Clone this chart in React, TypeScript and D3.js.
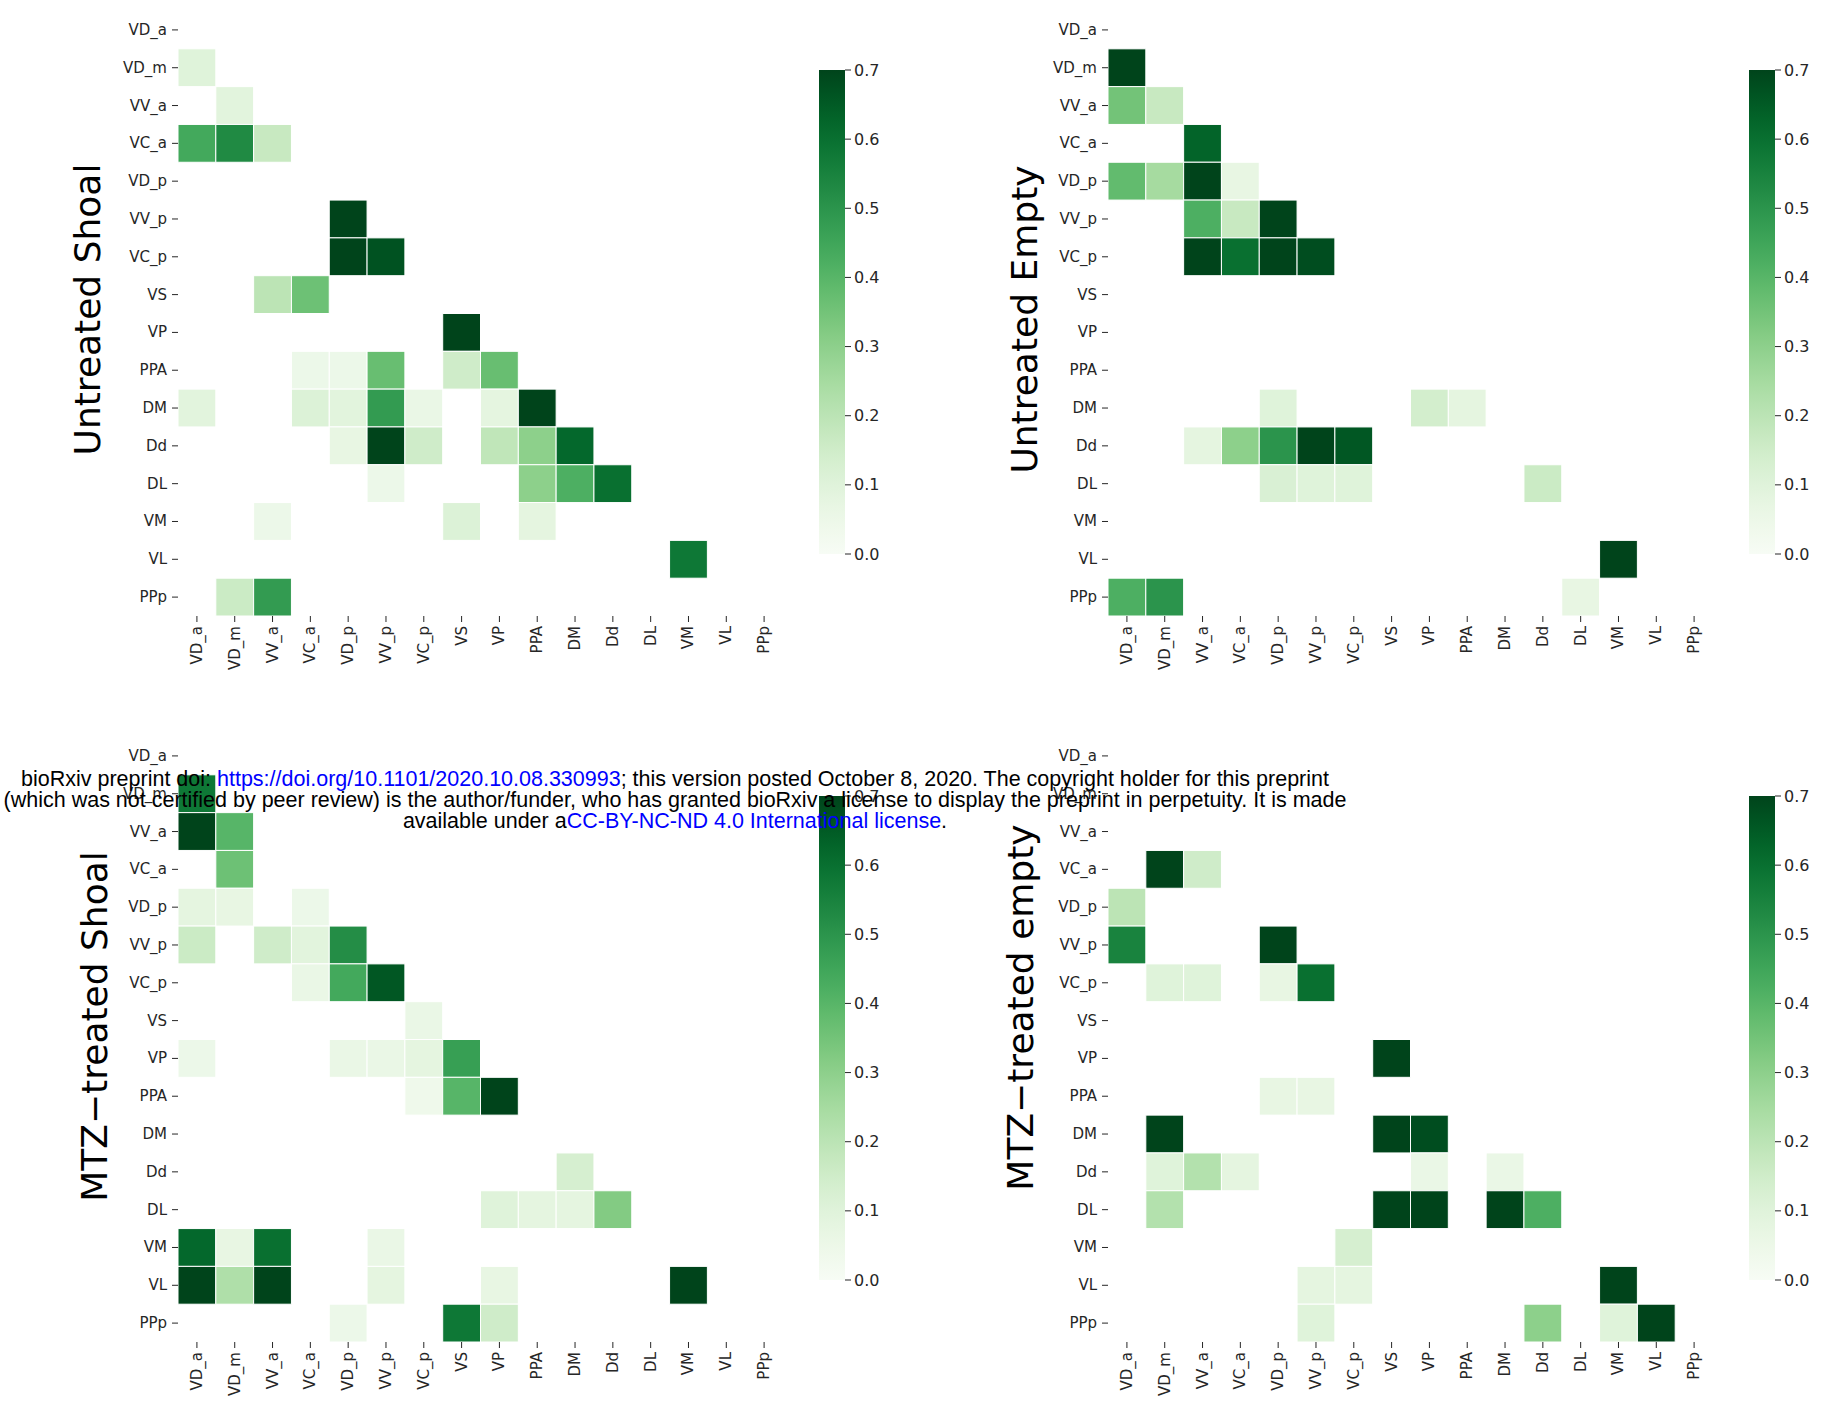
import React from "react";
import * as d3 from "d3";

const regions = ["VD_a","VD_m","VV_a","VC_a","VD_p","VV_p","VC_p","VS","VP","PPA","DM","Dd","DL","VM","VL","PPp"];
const colorTicks = [0, 0.1, 0.2, 0.3, 0.4, 0.5, 0.6, 0.7];
const vmax = 0.7;

type Cell = [string, string, number];

const untreatedShoal: Cell[] = [
  ["VD_m","VD_a",0.10],
  ["VV_a","VD_m",0.09],
  ["VC_a","VD_a",0.44],["VC_a","VD_m",0.53],["VC_a","VV_a",0.17],
  ["VV_p","VD_p",0.70],
  ["VC_p","VD_p",0.70],["VC_p","VV_p",0.67],
  ["VS","VV_a",0.20],["VS","VC_a",0.36],
  ["VP","VS",0.70],
  ["PPA","VC_a",0.05],["PPA","VD_p",0.05],["PPA","VV_p",0.37],["PPA","VS",0.15],["PPA","VP",0.37],
  ["DM","VD_a",0.09],["DM","VC_a",0.11],["DM","VD_p",0.09],["DM","VV_p",0.48],["DM","VC_p",0.06],["DM","VP",0.08],["DM","PPA",0.70],
  ["Dd","VD_p",0.07],["Dd","VV_p",0.70],["Dd","VC_p",0.15],["Dd","VP",0.19],["Dd","PPA",0.30],["Dd","DM",0.62],
  ["DL","VV_p",0.05],["DL","PPA",0.30],["DL","DM",0.42],["DL","Dd",0.60],
  ["VM","VV_a",0.05],["VM","VS",0.11],["VM","PPA",0.08],
  ["VL","VM",0.58],
  ["PPp","VD_m",0.16],["PPp","VV_a",0.48],
];

const untreatedEmpty: Cell[] = [
  ["VD_m","VD_a",0.70],
  ["VV_a","VD_a",0.35],["VV_a","VD_m",0.17],
  ["VC_a","VV_a",0.63],
  ["VD_p","VD_a",0.38],["VD_p","VD_m",0.25],["VD_p","VV_a",0.70],["VD_p","VC_a",0.07],
  ["VV_p","VV_a",0.42],["VV_p","VC_a",0.17],["VV_p","VD_p",0.70],
  ["VC_p","VV_a",0.70],["VC_p","VC_a",0.60],["VC_p","VD_p",0.70],["VC_p","VV_p",0.68],
  ["DM","VD_p",0.10],["DM","VP",0.14],["DM","PPA",0.08],
  ["Dd","VV_a",0.08],["Dd","VC_a",0.30],["Dd","VD_p",0.50],["Dd","VV_p",0.70],["Dd","VC_p",0.66],
  ["DL","VD_p",0.12],["DL","VV_p",0.10],["DL","VC_p",0.10],["DL","Dd",0.16],
  ["VL","VM",0.70],
  ["PPp","VD_a",0.42],["PPp","VD_m",0.50],["PPp","DL",0.07],
];

const mtzShoal: Cell[] = [
  ["VD_m","VD_a",0.58],
  ["VV_a","VD_a",0.70],["VV_a","VD_m",0.40],
  ["VC_a","VD_m",0.36],
  ["VD_p","VD_a",0.08],["VD_p","VD_m",0.07],["VD_p","VC_a",0.05],
  ["VV_p","VD_a",0.16],["VV_p","VV_a",0.15],["VV_p","VC_a",0.09],["VV_p","VD_p",0.52],
  ["VC_p","VC_a",0.06],["VC_p","VD_p",0.44],["VC_p","VV_p",0.66],
  ["VS","VC_p",0.06],
  ["VP","VD_a",0.05],["VP","VD_p",0.06],["VP","VV_p",0.06],["VP","VC_p",0.08],["VP","VS",0.47],
  ["PPA","VC_p",0.04],["PPA","VS",0.40],["PPA","VP",0.70],
  ["Dd","DM",0.13],
  ["DL","VP",0.10],["DL","PPA",0.08],["DL","DM",0.08],["DL","Dd",0.32],
  ["VM","VD_a",0.62],["VM","VD_m",0.07],["VM","VV_a",0.60],["VM","VV_p",0.06],
  ["VL","VD_a",0.70],["VL","VD_m",0.23],["VL","VV_a",0.70],["VL","VV_p",0.08],["VL","VP",0.07],["VL","VM",0.70],
  ["PPp","VD_p",0.05],["PPp","VS",0.58],["PPp","VP",0.15],
];

const mtzEmpty: Cell[] = [
  ["VC_a","VD_m",0.70],["VC_a","VV_a",0.15],
  ["VD_p","VD_a",0.20],
  ["VV_p","VD_a",0.55],["VV_p","VD_p",0.70],
  ["VC_p","VD_m",0.10],["VC_p","VV_a",0.10],["VC_p","VD_p",0.07],["VC_p","VV_p",0.60],
  ["VP","VS",0.70],
  ["PPA","VD_p",0.07],["PPA","VV_p",0.07],
  ["DM","VD_m",0.70],["DM","VS",0.70],["DM","VP",0.68],
  ["Dd","VD_m",0.10],["Dd","VV_a",0.22],["Dd","VC_a",0.08],["Dd","VP",0.06],["Dd","DM",0.06],
  ["DL","VD_m",0.22],["DL","VS",0.70],["DL","VP",0.70],["DL","DM",0.70],["DL","Dd",0.42],
  ["VM","VC_p",0.13],
  ["VL","VV_p",0.08],["VL","VC_p",0.08],["VL","VM",0.70],
  ["PPp","VV_p",0.10],["PPp","Dd",0.30],["PPp","VM",0.10],["PPp","VL",0.70],
];

const panelTitles = ["Untreated Shoal", "Untreated Empty", "MTZ\u2212treated Shoal", "MTZ\u2212treated empty"];
const panelData = [untreatedShoal, untreatedEmpty, mtzShoal, mtzEmpty];

// layout
const panelLeft = [178, 1108, 178, 1108];
const panelTop = [11, 11, 737, 737];
const titleX = [100, 1037, 107, 1033];
const titleDy = [-4, 6, -13, -32];
const SIZE = 605;

const color = (v: number) => d3.interpolateGreens(Math.min(1, v / vmax));
const labelFont = "'DejaVu Sans', sans-serif";
const textColor = "#262626";

function Panel({ idx }: { idx: number }) {
  const L = panelLeft[idx];
  const T = panelTop[idx];
  const x = d3.scaleBand<string>().domain(regions).range([L, L + SIZE]);
  const y = d3.scaleBand<string>().domain(regions).range([T, T + SIZE]);
  const bw = x.bandwidth();
  const cbX = L + 641;
  const cbW = 26;
  const cy = d3.scaleLinear().domain([0, vmax]).range([T + 543, T + 59]);
  const gradId = `grad${idx}`;
  const stops = d3.range(0, 1.0001, 0.05);
  const midY = T + SIZE / 2 + titleDy[idx];
  return (
    <g>
      <defs>
        <linearGradient id={gradId} x1="0" y1="1" x2="0" y2="0">
          {stops.map((s) => (
            <stop key={s} offset={`${s * 100}%`} stopColor={d3.interpolateGreens(s)} />
          ))}
        </linearGradient>
      </defs>
      {panelData[idx].map(([r, c, v]) => (
        <rect
          key={r + c}
          x={x(c)}
          y={y(r)}
          width={bw}
          height={bw}
          fill={color(v)}
          stroke="#ffffff"
          strokeWidth={1}
        />
      ))}
      {regions.map((r) => (
        <g key={"y" + r}>
          <line x1={L - 6} x2={L} y1={y(r)! + bw / 2} y2={y(r)! + bw / 2} stroke={textColor} strokeWidth={1} />
          <text
            x={L - 11}
            y={y(r)! + bw / 2}
            textAnchor="end"
            dominantBaseline="central"
            fontFamily={labelFont}
            fontSize={15}
            fill={textColor}
          >
            {r}
          </text>
        </g>
      ))}
      {regions.map((c) => (
        <g key={"x" + c}>
          <line x1={x(c)! + bw / 2} x2={x(c)! + bw / 2} y1={T + SIZE} y2={T + SIZE + 6} stroke={textColor} strokeWidth={1} />
          <text
            transform={`translate(${x(c)! + bw / 2},${T + SIZE + 10}) rotate(-90)`}
            textAnchor="end"
            dominantBaseline="central"
            fontFamily={labelFont}
            fontSize={15}
            fill={textColor}
          >
            {c}
          </text>
        </g>
      ))}
      <rect x={cbX} y={cy(vmax)} width={cbW} height={cy(0) - cy(vmax)} fill={`url(#${gradId})`} />
      {colorTicks.map((t) => (
        <g key={"c" + t}>
          <line x1={cbX + cbW} x2={cbX + cbW + 6} y1={cy(t)} y2={cy(t)} stroke={textColor} strokeWidth={1} />
          <text
            x={cbX + cbW + 9}
            y={cy(t)}
            dominantBaseline="central"
            fontFamily={labelFont}
            fontSize={16}
            fill={textColor}
          >
            {t.toFixed(1)}
          </text>
        </g>
      ))}
      <text
        transform={`translate(${titleX[idx]},${midY}) rotate(-90)`}
        textAnchor="middle"
        fontFamily={labelFont}
        fontSize={36}
        fill="#000"
      >
        {panelTitles[idx]}
      </text>
    </g>
  );
}

export default function App() {
  const ov = "'Liberation Sans', Arial, sans-serif";
  return (
    <svg
      width={1844}
      height={1407}
      style={{ position: "absolute", left: 0, top: 0, background: "#fff" }}
    >
      <rect x={0} y={0} width={1844} height={1407} fill="#fff" />
      {[0, 1, 2, 3].map((i) => (
        <Panel key={i} idx={i} />
      ))}
      <g fontFamily={ov} fontSize={21.5} textAnchor="middle" fill="#000">
        <text x={675} y={786}>
          bioRxiv preprint doi: <tspan fill="#0000ff">https://doi.org/10.1101/2020.10.08.330993</tspan>; this version posted October 8, 2020. The copyright holder for this preprint
        </text>
        <text x={675} y={807}>
          (which was not certified by peer review) is the author/funder, who has granted bioRxiv a license to display the preprint in perpetuity. It is made
        </text>
        <text x={675} y={828}>
          available under a<tspan fill="#0000ff">CC-BY-NC-ND 4.0 International license</tspan>.
        </text>
      </g>
    </svg>
  );
}
